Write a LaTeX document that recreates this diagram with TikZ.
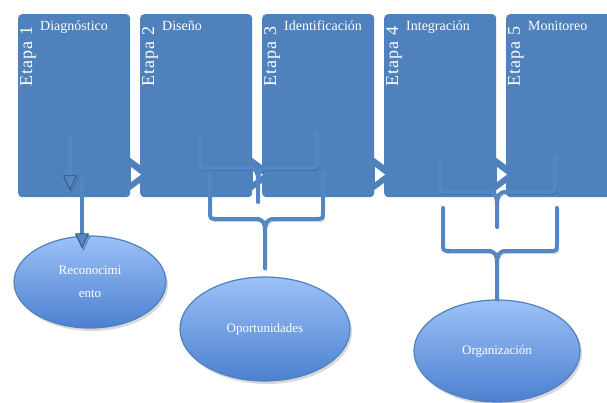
\documentclass[tikz,border=0pt]{standalone}
\usepackage{fontspec}
\setmainfont{Liberation Serif}
\usetikzlibrary{arrows.meta,shapes.geometric,shadows,calc}

\definecolor{stageblue}{HTML}{4F81BD}
\definecolor{clampblue}{HTML}{5286C4}
\definecolor{ovaltop}{HTML}{9CC1F7}
\definecolor{ovalbot}{HTML}{4C80D0}

\tikzset{
  stage/.style={fill=stageblue, rounded corners=4pt, anchor=north west,
    minimum width=112pt, minimum height=183pt, inner sep=0pt},
  stagetag/.style={text=white, rotate=90, anchor=west, inner sep=0pt,
    font=\fontsize{18}{18}\selectfont\addfontfeature{LetterSpace=6}},
  heading/.style={text=white, anchor=base west, inner sep=0pt,
    font=\fontsize{14}{14}\selectfont},
  oval/.style={ellipse, draw=stageblue, line width=1.2pt, top color=ovaltop,
    bottom color=ovalbot, text=white, align=center, inner sep=0pt,
    font=\fontsize{13}{23}\selectfont,
    drop shadow={shadow xshift=2pt, shadow yshift=-3pt, opacity=.3}},
  clamp/.style={draw=clampblue, line width=4pt, line cap=round, line join=round,
    preaction={draw=black!70!stageblue, opacity=.45,
      transform canvas={xshift=1.5pt, yshift=-2.5pt}}},
  downarrow/.style={clamp, -{Triangle[width=14pt,length=15pt,line width=.8pt,
    fill=clampblue, color=black!35!stageblue]}}
}

\begin{document}
\begin{tikzpicture}[x=1pt,y=-1pt]
\useasboundingbox (0,0) rectangle (607,402);
\clip (0,0) rectangle (607,402);

% stages
\node[stage] (s1) at (18,14) {};
\node[stage] (s2) at (140,14) {};
\node[stage] (s3) at (262,14) {};
\node[stage] (s4) at (384,14) {};
\node[stage] (s5) at (506,14) {};

\node[stagetag] at ($(s1.north west)+(10,73)$) {Etapa 1};
\node[stagetag] at ($(s2.north west)+(10,73)$) {Etapa 2};
\node[stagetag] at ($(s3.north west)+(10,73)$) {Etapa 3};
\node[stagetag] at ($(s4.north west)+(10,73)$) {Etapa 4};
\node[stagetag] at ($(s5.north west)+(10,73)$) {Etapa 5};

\node[heading] at ($(s1.north west)+(22,16)$) {Diagnóstico};
\node[heading] at ($(s2.north west)+(22,16)$) {Diseño};
\node[heading] at ($(s3.north west)+(22,16)$) {Identificación};
\node[heading] at ($(s4.north west)+(22,16)$) {Integración};
\node[heading] at ($(s5.north west)+(22,16)$) {Monitoreo};

% little arrows between stages
\fill[stageblue] (129,157) -- (129,191) -- (152,174) -- cycle;
\fill[white] (131,167) -- (131,182) -- (141,174.5) -- cycle;
\fill[stageblue] (251,157) -- (251,191) -- (274,174) -- cycle;
\fill[white] (253,167) -- (253,182) -- (263,174.5) -- cycle;
\fill[stageblue] (373,157) -- (373,191) -- (396,174) -- cycle;
\fill[white] (375,167) -- (375,182) -- (385,174.5) -- cycle;
\fill[stageblue] (495,157) -- (495,191) -- (518,174) -- cycle;
\fill[white] (497,167) -- (497,182) -- (507,174.5) -- cycle;

% results
\node[oval, minimum width=152pt, minimum height=92pt] (rec) at (90,282) {Reconocimi\\ento};
\node[oval, minimum width=170pt, minimum height=104pt] (opo) at (265,329) {Oportunidades};
\node[oval, minimum width=166pt, minimum height=102pt] (org) at (497,351) {Organización};

% brackets
\draw[clamp] (200,133) -- (200,160) .. controls (200,168) .. (208,168) -- (249,168)
    .. controls (256,168) and (258,172) .. (258,180) -- (258,202)
  (317,133) -- (317,160) .. controls (317,168) .. (309,168) -- (267,168)
    .. controls (260,168) and (258,172) .. (258,180);
\draw[clamp] (210,173) -- (210,211) .. controls (210,219) .. (218,219) -- (256,219)
    .. controls (263,219) and (265,223) .. (265,231) -- ([yshift=8pt]opo.north)
  (323,173) -- (323,211) .. controls (323,219) .. (315,219) -- (274,219)
    .. controls (267,219) and (265,223) .. (265,231);
\draw[clamp] (440,157) -- (440,184) .. controls (440,192) .. (448,192) -- (488,192)
    .. controls (495,192) and (497,196) .. (497,204) -- (497,227)
  (555,157) -- (555,184) .. controls (555,192) .. (547,192) -- (506,192)
    .. controls (499,192) and (497,196) .. (497,204);
\draw[clamp] (443,208) -- (443,243) .. controls (443,251) .. (451,251) -- (488,251)
    .. controls (495,251) and (497,255) .. (497,263) -- (org.north)
  (557,208) -- (557,243) .. controls (557,251) .. (549,251) -- (506,251)
    .. controls (499,251) and (497,255) .. (497,263);

% arrows of the first stage
\coordinate (a1) at (70,135);
\coordinate (a2) at (82,178);
\draw[downarrow] (a1) -- ([yshift=7pt]a1 |- s1.south);
\draw[downarrow] (a2) -- ([yshift=-13pt]a2 |- rec.north);
\end{tikzpicture}
\end{document}
